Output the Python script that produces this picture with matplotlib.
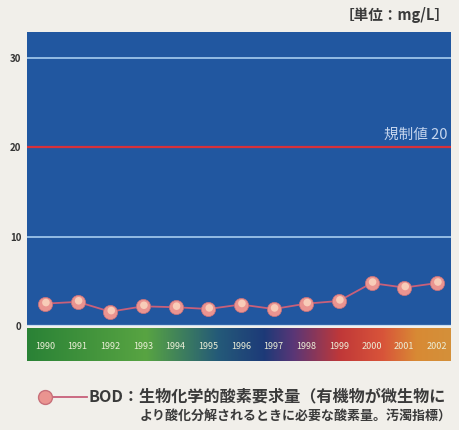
import numpy as np
import matplotlib.pyplot as plt
from matplotlib.colors import LinearSegmentedColormap

plt.rcParams['font.family'] = ['Noto Sans CJK JP', 'DejaVu Sans']

years = ['1990', '1991', '1992', '1993', '1994', '1995', '1996',
         '1997', '1998', '1999', '2000', '2001', '2002']
bod = [2.5, 2.7, 1.6, 2.2, 2.1, 1.9, 2.4, 1.9, 2.5, 2.8, 4.8, 4.3, 4.8]
yticks = [0, 10, 20, 30]
limit = 20

fig = plt.figure(figsize=(4.59, 4.30), dpi=100)
fig.patch.set_facecolor('#f1efea')

x = np.arange(len(years))
xlim = (-0.55, len(years) - 1 + 0.43)

# main panel
ax = fig.add_axes([0.0588, 0.2419, 0.9237, 0.6837])
ax.set_facecolor('#2157a0')
ax.set_xlim(*xlim)
ax.set_ylim(0, 32.9)
for v in yticks:
    if v == 0:
        ax.axhline(v, color='#c8dcef', lw=1.6, zorder=1)
    elif v == limit:
        ax.axhline(v, color='#d8303a', lw=1.6, zorder=1)
    else:
        ax.axhline(v, color='#9cc4ea', lw=1.3, zorder=1)
ax.text(xlim[1] - 0.1, limit + 0.6, '規制値 20', color='#c6d6ee',
        fontsize=10.5, ha='right', va='bottom')

ax.plot(x, bod, color='#c8607a', lw=1.3, zorder=2)
ax.scatter(x, bod, s=105, color='#ea9490', edgecolor='#c8707a', lw=0.5, zorder=3)
ax.scatter(x + 0.03, [b + 0.12 for b in bod], s=30, color='#f8ccb8',
           edgecolor='none', zorder=4)

ax.set_xticks([])
ax.set_yticks(yticks)
ax.set_yticklabels([str(v) for v in yticks], fontsize=7, fontweight='bold',
                   color='#333333')
ax.tick_params(axis='y', length=0, pad=4)
for s in ax.spines.values():
    s.set_visible(False)

# year strip with gradient
ax2 = fig.add_axes([0.0588, 0.1605, 0.9237, 0.0767])
strip = LinearSegmentedColormap.from_list('strip', [
    (0.00, '#2a8236'), (0.28, '#58a442'), (0.45, '#245a78'),
    (0.56, '#1d3a78'), (0.63, '#5a3676'), (0.74, '#c03838'),
    (0.84, '#d8543a'), (0.92, '#d88a34'), (1.00, '#d4903a')])
ax2.imshow(np.linspace(0, 1, 256).reshape(1, -1), cmap=strip, aspect='auto',
           extent=(xlim[0], xlim[1], 0, 1))
ax2.set_xlim(*xlim)
ax2.set_ylim(0, 1)
for i, yr in enumerate(years):
    ax2.text(i, 0.45, yr, color='#ecefd8', fontsize=6.5, ha='center', va='center')
ax2.axis('off')

# unit label
fig.text(0.98, 0.965, '［単位：mg/L］', fontsize=10.5, fontweight='bold',
         color='#3a3a3a', ha='right', va='center')

# legend
lx0, lx1, ly = 0.098, 0.19, 0.077
fig.add_artist(plt.Line2D([lx0, lx1], [ly, ly], color='#c8607a', lw=1.3))
fig.add_artist(plt.Line2D([lx0], [ly], marker='o', ms=10, color='#ea9490',
                          markeredgecolor='#c8707a'))
fig.text(0.193, ly, 'BOD：生物化学的酸素要求量（有機物が微生物に',
         fontsize=11.6, fontweight='bold', color='#3a3a3a', va='center')
fig.text(0.305, ly - 0.043, 'より酸化分解されるときに必要な酸素量。汚濁指標）',
         fontsize=9.35, fontweight='bold', color='#3a3a3a', va='center')

fig.savefig('out.png', dpi=100, facecolor=fig.get_facecolor())
